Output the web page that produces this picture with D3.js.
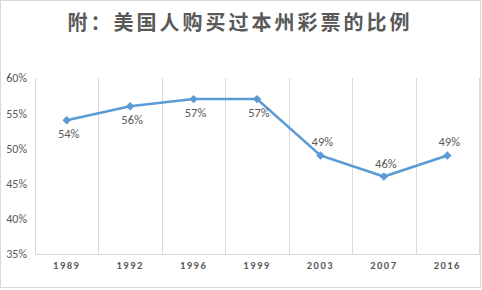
<!DOCTYPE html>
<html><head><meta charset="utf-8">
<script src="https://cdn.jsdelivr.net/npm/d3@7"></script>
<style>body{margin:0;background:#fff}svg{display:block}</style>
</head><body>
<script>
const categories = ["1989","1992","1996","1999","2003","2007","2016"];
const values = [54,56,57,57,49,46,49];
const labelPos = ["below","below","below","below","above","above","above"];
const yTicks = [35,40,45,50,55,60];
const title = "附：美国人购买过本州彩票的比例";

(function(){
const W=482,H=290;
const svg=d3.select("body").append("svg").attr("width",W).attr("height",H);
svg.append("rect").attr("x",0.5).attr("y",0.5).attr("width",W-2).attr("height",H-3)
  .attr("fill","#fff").attr("stroke","#d9d9d9");

const pL=35,pR=479,pT=78,pB=254;
const x=d3.scaleBand().domain(categories).range([pL,pR]);
const y=d3.scaleLinear().domain([35,60]).range([pB,pT]);
const F="Carlito, Calibri, 'Liberation Sans', sans-serif";

svg.append("text").attr("x",240).attr("y",30).attr("text-anchor","middle")
  .attr("font-family","'Noto Sans CJK SC'").attr("font-size",20).attr("font-weight","bold")
  .attr("letter-spacing",3).attr("fill","#595959").text(title);

const edges=categories.map(c=>x(c)).concat([x(categories[categories.length-1])+x.bandwidth()]);
svg.append("g").selectAll("line").data(edges).join("line")
  .attr("x1",d=>Math.round(d)+0.5).attr("x2",d=>Math.round(d)+0.5)
  .attr("y1",pT).attr("y2",pB).attr("stroke","#d9d9d9");
svg.append("line").attr("x1",pL).attr("x2",pR+1).attr("y1",pB+0.5).attr("y2",pB+0.5).attr("stroke","#d9d9d9");

const yAxis=d3.axisLeft(y).tickValues(yTicks).tickSize(0).tickPadding(8).tickFormat(d=>d+"%");
const ga=svg.append("g").attr("transform",`translate(${pL},0)`).call(yAxis);
ga.select(".domain").remove();
ga.selectAll("text").attr("font-family",F).attr("font-size",12).attr("fill","#595959");

const xAxis=d3.axisBottom(x).tickSize(0).tickPadding(8);
const gx=svg.append("g").attr("transform",`translate(0,${pB})`).call(xAxis);
gx.select(".domain").remove();
gx.selectAll("text").attr("font-family",F).attr("font-size",10.5).attr("font-weight","bold")
  .attr("letter-spacing",1.5).attr("fill","#595959");

const cx=c=>x(c)+x.bandwidth()/2;
const line=d3.line().x((d,i)=>cx(categories[i])).y(d=>y(d));
svg.append("path").datum(values).attr("d",line).attr("fill","none").attr("stroke","#5b9bd5").attr("stroke-width",2.5);

const sym=d3.symbol().type(d3.symbolSquare).size(36);
svg.append("g").selectAll("path").data(values).join("path")
  .attr("d",sym).attr("transform",(d,i)=>`translate(${cx(categories[i])},${y(d)}) rotate(45)`).attr("fill","#5b9bd5");

svg.append("g").selectAll("text").data(values).join("text")
  .attr("x",(d,i)=>cx(categories[i])+2)
  .attr("y",(d,i)=>y(d)+(labelPos[i]==="below"?18:-9))
  .attr("text-anchor","middle").attr("font-family",F).attr("font-size",12.5)
  .attr("fill","#595959").text(d=>d+"%");
})();
</script>
</body></html>
